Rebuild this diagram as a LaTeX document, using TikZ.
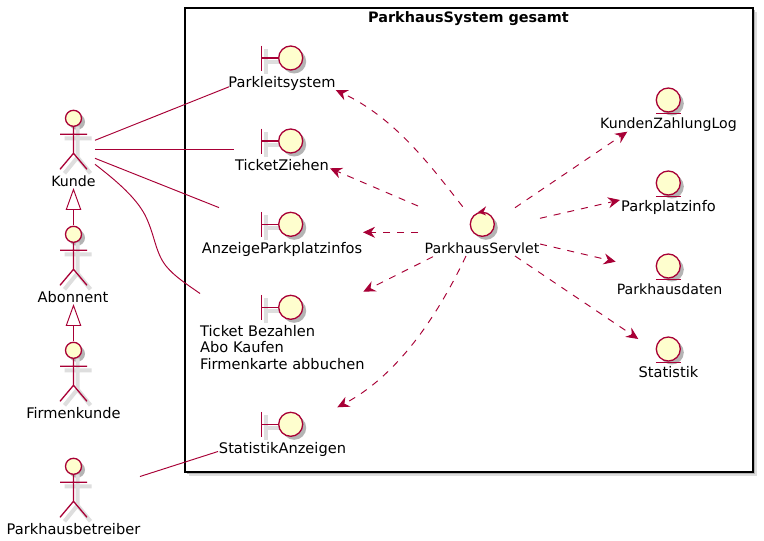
\documentclass[tikz,border=0pt]{standalone}
\usepackage{fontspec}
\setmainfont{DejaVu Sans}
\usetikzlibrary{arrows.meta}
\definecolor{pline}{HTML}{A80036}
\definecolor{pfill}{HTML}{FEFECE}
\definecolor{pshadow}{HTML}{DEDEDE}
\definecolor{pshadowd}{HTML}{B4B4B4}
\tikzset{
 x=1pt,y=-1pt,
 lbl/.style={inner sep=0pt,font=\fontsize{14.6}{16.5}\selectfont,text=black,anchor=base},
 lbls/.style={lbl,font=\fontsize{14.15}{16.5}\selectfont},
 conn/.style={draw=pline,line width=0.95pt},
 dep/.style={conn,dash pattern=on 7pt off 7pt,-{Stealth[length=12pt,width=11pt,inset=4pt,fill=pline]}},
 icon/.style={draw=pline,line width=1.3pt},
 ifill/.style={icon,fill=pfill},
 shad/.style={draw=pshadow,line width=4pt},
 circsh/.style={fill=pshadowd},
 actorpic/.pic={
  \fill[circsh] (3.5,3.5) circle (8);
  \draw[shad] (4,8)--(4,38) (-9,20)--(18,20) (4,39)--(-9,55) (4,39)--(17,55);
  \draw[icon] (0,8)--(0,35) (-13.5,16)--(13.5,16) (-13.5,51)--(0,35)--(13.5,51);
  \draw[ifill] (0,0) circle (8);
 },
 boundarypic/.pic={
  \draw[shad] (-25,-9)--(-25,16) (-25,4)--(-12,4);
  \fill[circsh] (3.5,3.5) circle (12);
  \draw[icon] (-29,-12.5)--(-29,12.5) (-29,0)--(-12,0);
  \draw[ifill] (0,0) circle (12);
 },
 entitypic/.pic={
  \fill[circsh] (3.5,3.5) circle (12);
  \draw[ifill] (0,0) circle (12);
  \draw[icon] (-12.5,13.5)--(12.5,13.5);
 },
 controlpic/.pic={
  \fill[circsh] (3.5,3.5) circle (12);
  \draw[ifill] (0,0) circle (12);
  \fill[pline] (-4.5,-12) -- (3.8,-18) -- (1.2,-12.3) -- (3.8,-8.8) -- cycle;
 },
}
\begin{document}
\begin{tikzpicture}
\useasboundingbox (0,0) rectangle (764,541);
\fill[white] (0,0) rectangle (764,541);
% frame
\fill[pshadow] (189,12) rectangle (757,476);
\fill[pshadowd] (187,10) rectangle (755,474);
\node[draw=black,line width=1.3pt,fill=white,minimum width=568pt,minimum height=464pt,inner sep=0pt] (frame) at (469,240) {};
\node[lbl,font=\fontsize{14.4}{16}\selectfont\bfseries] (title) at (468.5,22) {ParkhausSystem gesamt};
% actors
\pic (kundeIcon) at (73.5,118.3) {actorpic};
\pic (abonnentIcon) at (73.5,234.3) {actorpic};
\pic (firmenIcon) at (73.5,350.3) {actorpic};
\pic (betreiberIcon) at (73.5,466.3) {actorpic};
\node[lbls] (kunde) at (73.5,186) {Kunde};
\node[lbl] (abonnent) at (73,302) {Abonnent};
\node[lbl] (firmen) at (73.5,418) {Firmenkunde};
\node[lbl] (betreiber) at (73.5,534) {Parkhausbetreiber};
% boundaries
\pic (b1) at (290.7,58) {boundarypic};
\pic (b2) at (290.7,141) {boundarypic};
\pic (b3) at (290.7,224.3) {boundarypic};
\pic (b4) at (290.7,307.3) {boundarypic};
\pic (b5) at (290.7,424.3) {boundarypic};
\node[lbl] (parkleit) at (282,87) {Parkleitsystem};
\node[lbl] (ticketz) at (282,170) {TicketZiehen};
\node[lbl] (anzeige) at (282,253) {AnzeigeParkplatzinfos};
\node[lbl,anchor=base west,align=left] (bezahlen) at (200,369) {Ticket Bezahlen\\Abo Kaufen\\Firmenkarte abbuchen};
\node[lbl] (statanz) at (282.5,453) {StatistikAnzeigen};
% control
\pic (servletIcon) at (482.3,224.3) {controlpic};
\node[lbls] (servlet) at (482,253) {ParkhausServlet};
% entities
\pic (e1) at (668.3,100) {entitypic};
\pic (e2) at (668.3,183) {entitypic};
\pic (e3) at (668.3,266) {entitypic};
\pic (e4) at (668.3,349) {entitypic};
\node[lbls] (kzl) at (668.5,128) {KundenZahlungLog};
\node[lbl] (ppi) at (668.5,211) {Parkplatzinfo};
\node[lbls] (phd) at (669.5,294) {Parkhausdaten};
\node[lbl] (stat) at (668.5,377) {Statistik};
% connector ends
\coordinate (k1) at (95,140.3);
\coordinate (k2) at (95,149.3);
\coordinate (k3) at (95,158.3);
\coordinate (k4) at (95,164.3);
\coordinate (t1) at (229,86.8);
\coordinate (t2) at (234,149.3);
\coordinate (t3) at (219,207.6);
\coordinate (t4) at (200,293.5);
\coordinate (bt) at (140,476.5);
\coordinate (t5) at (218,451.5);
\draw[conn] (k1) -- (t1);
\draw[conn] (k2) -- (t2);
\draw[conn] (k3) -- (t3);
\draw[conn] (k4) .. controls (118,182) and (136,198) .. (145,215) .. controls (155,235) and (155,252) .. (166,266) .. controls (175,277) and (188,285) .. (t4);
\draw[conn] (bt) -- (t5);
% generalisation
\coordinate (g1a) at (73.5,189.5);
\coordinate (g1b) at (73.5,225);
\coordinate (g2a) at (73.5,305.5);
\coordinate (g2b) at (73.5,341);
\draw[conn] (g1b) -- (73.5,209.5);
\draw[conn] (g2b) -- (73.5,325.5);
\draw[conn,line join=miter] (g1a) -- (66.3,209.5) -- (80.7,209.5) -- cycle;
\draw[conn,line join=miter] (g2a) -- (66.3,325.5) -- (80.7,325.5) -- cycle;
% dependencies
\coordinate (s1) at (462.7,206.7);
\coordinate (s2) at (418,206);
\coordinate (s3) at (418,232.3);
\coordinate (s4) at (433,256.7);
\coordinate (s5) at (466,256);
\coordinate (s6) at (515,207.7);
\coordinate (s7) at (540,218.3);
\coordinate (s8) at (540,244);
\coordinate (s9) at (515,256);
\coordinate (d1) at (335.7,90);
\coordinate (d2) at (330,168.3);
\coordinate (d3) at (363,232.3);
\coordinate (d4) at (363.3,291.7);
\coordinate (d5) at (337.3,407.3);
\coordinate (d6) at (627.3,131.7);
\coordinate (d7) at (620,200);
\coordinate (d8) at (615.7,261.7);
\coordinate (d9) at (638.3,339);
\draw[dep] (s1) .. controls (430,165) and (395,118) .. (d1);
\draw[dep] (s2) -- (d2);
\draw[dep] (s3) -- (d3);
\draw[dep] (s4) -- (d4);
\draw[dep] (s5) .. controls (445,300) and (405,372) .. (d5);
\draw[dep] (s6) -- (d6);
\draw[dep] (s7) -- (d7);
\draw[dep] (s8) -- (d8);
\draw[dep] (s9) -- (d9);
\end{tikzpicture}
\end{document}
